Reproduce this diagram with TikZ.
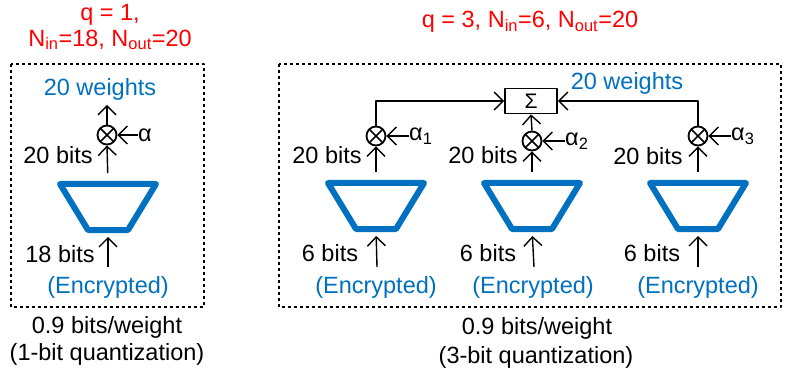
\documentclass[tikz,border=0pt]{standalone}
\usepackage{fontspec}
\setmainfont{Liberation Sans}
\usetikzlibrary{calc,positioning,arrows.meta}
\definecolor{encblue}{RGB}{0,112,192}
\begin{document}
\begin{tikzpicture}[x=1pt,y=-1pt,>={Straight Barb[length=9pt,width=18pt]},line join=round,
  every node/.style={font=\fontsize{23.5}{28}\selectfont},
  trap/.style={minimum width=96pt,minimum height=46pt,inner sep=0pt,outer sep=0pt},
  trapline/.style={draw=encblue,line width=6pt,line join=round},
  mult/.style={draw,circle,line width=1.8pt,minimum size=19pt,inner sep=0pt,path picture={\draw[line width=1.6pt] (path picture bounding box.north west) -- (path picture bounding box.south east) (path picture bounding box.north east) -- (path picture bounding box.south west);}},
  sumbox/.style={draw,line width=1.8pt,minimum width=52pt,minimum height=25pt,inner sep=0pt,font=\fontsize{21}{24}\selectfont},
  wire/.style={->,line width=1.4pt},
  blk/.style={draw,line width=1.8pt,dash pattern=on 3pt off 3pt},
  lbl/.style={anchor=west,inner sep=0pt},
]
\useasboundingbox (0,0) rectangle (785,377);
%%
\node (q1a) at (110,15) [red] {q = 1,};
\node (q1b) at (110,40) [red] {N\textsubscript{in}=18, N\textsubscript{out}=20};
\node (q3) at (530,22) [red] {q = 3, N\textsubscript{in}=6, N\textsubscript{out}=20};
\draw [blk] (11,64) rectangle (204,307);
\draw [blk] (279,64) rectangle (781,307);
%% q = 1
\node (tr0) at (108,207) [trap] {};
\node (m0) at (107,135) [mult] {};
\node (w0) at (100,89) [text=encblue] {20 weights};
\coordinate (o0) at (107,105);
\node (a0) at (138,135) [lbl] {α};
\node (b0) at (58,155) {20 bits};
\coordinate (i0) at (108,267);
\node (n0) at (60,254) {18 bits};
\node (e0) at (108,287) [text=encblue] {(Encrypted)};
\node (r0) at (107,327) {0.9 bits/weight};
\node (s0) at (107,354) {(1-bit quantization)};
\draw [wire,shorten <=11pt] (tr0.north) -- (m0.south);
\draw [wire] (m0.north) -- (o0);
\draw [wire] (a0.west) -- (m0.east);
\draw [wire,shorten >=7pt] (i0) -- (tr0.south);
%% q = 3
\node (sum) at (531,101) [sumbox] {Σ};
\node (w1) at (627,83) [text=encblue] {20 weights};
\node (tr1) at (376,206) [trap] {};
\node (tr2) at (532,206) [trap] {};
\node (tr3) at (698,206) [trap] {};
\node (m1) at (376,136) [mult] {};
\node (m2) at (532,141) [mult] {};
\node (m3) at (698,136) [mult] {};
\node (a1) at (409,136) [lbl] {α\textsubscript{1}};
\node (a2) at (565,141) [lbl] {α\textsubscript{2}};
\node (a3) at (731,136) [lbl] {α\textsubscript{3}};
\node (b1) at (327,155) {20 bits};
\node (b2) at (483,155) {20 bits};
\node (b3) at (648,156) {20 bits};
\coordinate (i1) at (377,267);
\coordinate (i2) at (534,267);
\coordinate (i3) at (698,267);
\node (n1) at (330,253) {6 bits};
\node (n2) at (488,253) {6 bits};
\node (n3) at (652,253) {6 bits};
\node (e1) at (376,287) [text=encblue] {(Encrypted)};
\node (e2) at (533,287) [text=encblue] {(Encrypted)};
\node (e3) at (698,287) [text=encblue] {(Encrypted)};
\node (r1) at (537,328) {0.9 bits/weight};
\node (s1) at (536,357) {(3-bit quantization)};
% trapezoids
\foreach \t in {tr0,tr1,tr2,tr3}
  \draw [trapline] (\t.north west) -- (\t.north east) -- ([xshift=-28pt]\t.south east) -- ([xshift=28pt]\t.south west) -- cycle;
\draw [wire,shorten <=11pt] (tr1.north) -- (m1.south);
\draw [wire,shorten <=11pt] (tr2.north) -- (m2.south);
\draw [wire,shorten <=11pt] (tr3.north) -- (m3.south);
\draw [wire] (a1.west) -- (m1.east);
\draw [wire] (a2.west) -- (m2.east);
\draw [wire] (a3.west) -- (m3.east);
\draw [wire] (m1.north) |- (sum.west);
\draw [wire] (m2.north) -- (sum.south);
\draw [wire] (m3.north) |- (sum.east);
\draw [wire,shorten >=7pt] (i1) -- (tr1.south);
\draw [wire,shorten >=7pt] (i2) -- (tr2.south);
\draw [wire,shorten >=7pt] (i3) -- (tr3.south);
%
\end{tikzpicture}
\end{document}
